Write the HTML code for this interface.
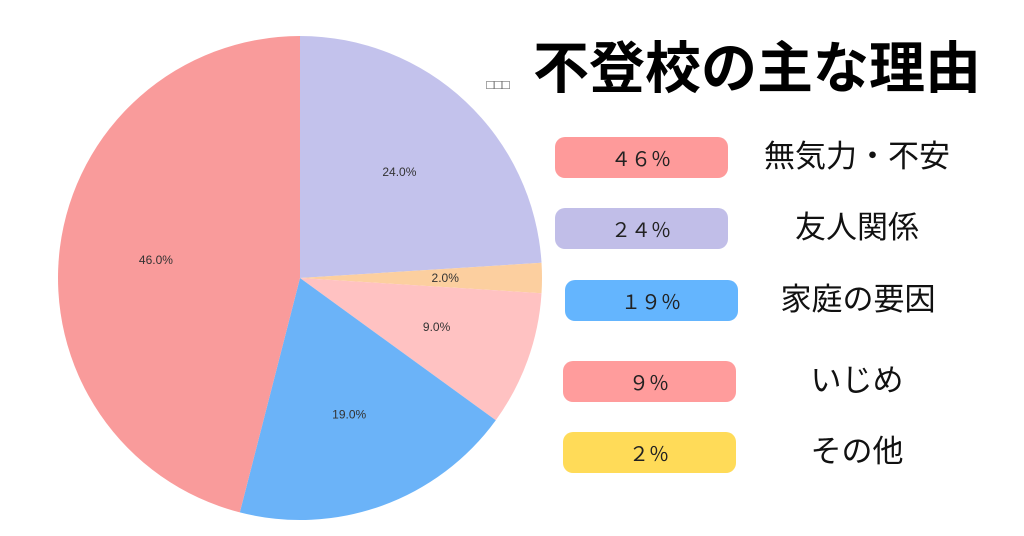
<!DOCTYPE html>
<html><head><meta charset="utf-8"><style>
body{margin:0;width:1024px;height:536px;background:#fff;overflow:hidden;font-family:"Liberation Sans","Noto Sans CJK JP",sans-serif;}
svg{position:absolute;left:0;top:0}
</style></head><body>
<svg id="chart" width="1024" height="536">
<text x="757" y="88" text-anchor="middle" font-size="56" font-weight="bold" fill="#000" font-family="'Liberation Sans','Noto Sans CJK JP',sans-serif">不登校の主な理由</text>
<text x="498" y="89" text-anchor="middle" font-size="13" fill="#555" font-family="'Liberation Sans',sans-serif">□□□</text>
<g id="slices"></g><g id="legend"></g>
</svg>
<script>
const categories=["友人関係","その他","いじめ","家庭の要因","無気力・不安"];
const values=[24,2,9,19,46];
const sliceColors=["#c3c2ec","#fccf9f","#ffc2c2","#6bb3f8","#f99b9b"];
const legendNames=["無気力・不安","友人関係","家庭の要因","いじめ","その他"];
const legendValues=["４６％","２４％","１９％","９％","２％"];
const legendColors=["#fe9a9a","#c1bee8","#64b5fe","#ff9c9c","#ffdb58"];
const NS="http://www.w3.org/2000/svg";
const cx=300,cy=278,r=242;
const total=values.reduce((a,b)=>a+b,0);
const g=document.getElementById('slices');
let a0=0;
function pt(a,rr){return [cx+rr*Math.sin(a),cy-rr*Math.cos(a)];}
values.forEach((v,i)=>{
 const a1=a0+v/total*2*Math.PI;
 const p0=pt(a0,r),p1=pt(a1,r);
 const path=document.createElementNS(NS,'path');
 path.setAttribute('d',`M${cx},${cy}L${p0[0]},${p0[1]}A${r},${r} 0 ${a1-a0>Math.PI?1:0} 1 ${p1[0]},${p1[1]}Z`);
 path.setAttribute('fill',sliceColors[i]);
 
 
 g.appendChild(path);
 const m=pt((a0+a1)/2,r*0.6);
 const t=document.createElementNS(NS,'text');
 t.setAttribute('x',m[0]);t.setAttribute('y',m[1]+4);
 t.setAttribute('text-anchor','middle');t.setAttribute('font-size','12');t.setAttribute('fill','#333');
 t.textContent=(v/total*100).toFixed(1)+'%';
 
 
 g.appendChild(t);
 a0=a1;
});
const lg=document.getElementById('legend');
const pillX=[555,555,565,563,563],pillY=[137,208,280,361,432],nameX=[857,857,858,857,857];
legendNames.forEach((n,i)=>{
 const rc=document.createElementNS(NS,'rect');
 rc.setAttribute('x',pillX[i]);rc.setAttribute('y',pillY[i]);rc.setAttribute('width',173);rc.setAttribute('height',41);
 rc.setAttribute('rx',10);rc.setAttribute('fill',legendColors[i]);
 
 
 lg.appendChild(rc);
 const t=document.createElementNS(NS,'text');
 t.setAttribute('x',pillX[i]+86);t.setAttribute('y',pillY[i]+29);t.setAttribute('text-anchor','middle');
 t.setAttribute('font-size','20');t.setAttribute('fill','#222');
 t.setAttribute('font-family',"'Liberation Sans','Noto Sans CJK JP',sans-serif");
 t.textContent=legendValues[i];
 
 
 lg.appendChild(t);
 const l=document.createElementNS(NS,'text');
 l.setAttribute('x',nameX[i]);l.setAttribute('y',pillY[i]+30);l.setAttribute('text-anchor','middle');
 l.setAttribute('font-size','31');l.setAttribute('fill','#111');
 l.setAttribute('font-family',"'Liberation Sans','Noto Sans CJK JP',sans-serif");
 l.textContent=n;
 
 
 lg.appendChild(l);
});
</script>
</body></html>
